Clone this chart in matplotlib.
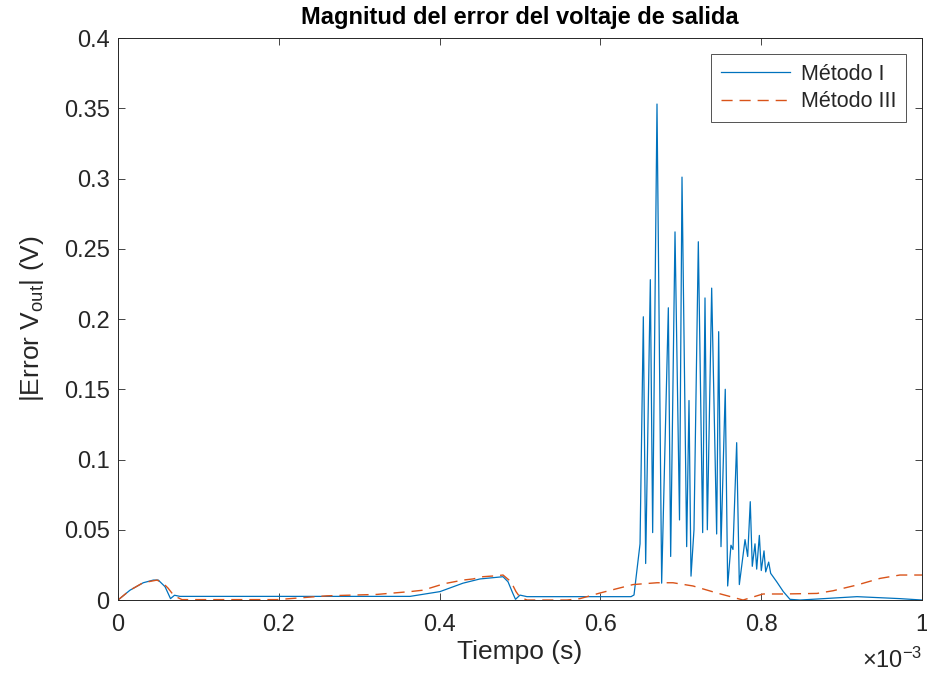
import matplotlib
matplotlib.use("Agg")
import matplotlib.pyplot as plt
from matplotlib.ticker import FuncFormatter

plt.rcParams["font.family"] = ["Liberation Sans", "DejaVu Sans"]
plt.rcParams["mathtext.fontset"] = "custom"
plt.rcParams["mathtext.rm"] = "Liberation Sans"
plt.rcParams["mathtext.it"] = "Liberation Sans:italic"
plt.rcParams["mathtext.bf"] = "Liberation Sans:bold"

# Time in milliseconds and error magnitude in volts
t_metodo1 = [0.000, 0.0149, 0.0314, 0.0439, 0.0501, 0.0585, 0.0653, 0.0703, 0.0771,
             0.3632, 0.4005, 0.4291, 0.4502, 0.4789, 0.4851, 0.4909, 0.4944, 0.5000,
             0.5087, 0.6381, 0.6418, 0.6493, 0.6534, 0.6563, 0.6621, 0.6650, 0.6704,
             0.6762, 0.6845, 0.6874, 0.6928, 0.6984, 0.7015, 0.7073, 0.7102, 0.7127,
             0.7164, 0.7218, 0.7272, 0.7301, 0.7330, 0.7384, 0.7446, 0.7471, 0.7500,
             0.7553, 0.7583, 0.7624, 0.7649, 0.7695, 0.7728, 0.7799, 0.7832, 0.7864,
             0.7889, 0.7923, 0.7944, 0.7977, 0.8001, 0.8035, 0.8056, 0.8093, 0.8118,
             0.8143, 0.8193, 0.8275, 0.8358, 0.8483, 0.9192, 0.9726, 1.0000]
e_metodo1 = [0.0, 0.007, 0.0123, 0.0142, 0.0142, 0.0095, 0.001, 0.0034, 0.0026,
             0.0026, 0.006, 0.012, 0.015, 0.0166, 0.013, 0.005, 0.0005, 0.0035,
             0.0024, 0.0024, 0.0036, 0.040, 0.2016, 0.026, 0.228, 0.048, 0.353,
             0.012, 0.208, 0.031, 0.262, 0.057, 0.301, 0.038, 0.142, 0.017,
             0.050, 0.255, 0.048, 0.215, 0.050, 0.222, 0.047, 0.191, 0.038,
             0.150, 0.010, 0.039, 0.036, 0.112, 0.011, 0.043, 0.031, 0.070,
             0.024, 0.040, 0.022, 0.046, 0.021, 0.035, 0.020, 0.027, 0.019,
             0.017, 0.013, 0.006, 0.0005, 0.0, 0.0024, 0.001, 0.0]

t_metodo3 = [0.000, 0.0149, 0.0311, 0.0485, 0.0560, 0.0622, 0.0697, 0.0796, 0.1978,
             0.2600, 0.3221, 0.3632, 0.3794, 0.4005, 0.4092, 0.4291, 0.4415, 0.4540,
             0.4714, 0.4789, 0.4888, 0.4950, 0.5000, 0.5087, 0.5585, 0.5746, 0.5995,
             0.6405, 0.6704, 0.6903, 0.7152, 0.7450, 0.7774, 0.8022, 0.8271, 0.8694,
             0.8893, 0.9192, 0.9478, 0.9726, 1.0000]
e_metodo3 = [0.0, 0.007, 0.0123, 0.0142, 0.012, 0.0085, 0.003, 0.0003, 0.0003,
             0.003, 0.004, 0.006, 0.007, 0.0107, 0.012, 0.0142, 0.015, 0.0166,
             0.0173, 0.0178, 0.013, 0.006, 0.002, 0.0, 0.0, 0.001, 0.005,
             0.011, 0.0123, 0.0123, 0.010, 0.005, 0.0, 0.0043, 0.0043, 0.0047,
             0.0066, 0.0107, 0.0154, 0.0178, 0.0178]

nombres = ["Método I", "Método III"]
y_ticks = [0, 0.05, 0.1, 0.15, 0.2, 0.25, 0.3, 0.35, 0.4]
x_ticks = [0, 0.2e-3, 0.4e-3, 0.6e-3, 0.8e-3, 1e-3]

azul = "#0072BD"
naranja = "#D95319"
gris = "#262626"

fig = plt.figure(figsize=(9.27, 6.8), dpi=100)
ax = fig.add_axes([0.1273, 0.1176, 0.8673, 0.8265])

ax.plot([t * 1e-3 for t in t_metodo1], e_metodo1, color=azul, lw=0.9, label=nombres[0])
ax.plot([t * 1e-3 for t in t_metodo3], e_metodo3, color=naranja, lw=1.0,
        linestyle=(0, (8, 5)), label=nombres[1])

ax.set_xlim(0, 1e-3)
ax.set_ylim(0, 0.4)
ax.set_xticks(x_ticks)
ax.set_yticks(y_ticks)
ax.xaxis.set_major_formatter(FuncFormatter(lambda v, p: "%g" % round(v * 1e3, 6)))
ax.yaxis.set_major_formatter(FuncFormatter(lambda v, p: "%g" % round(v, 6)))

ax.tick_params(direction="in", length=5, width=0.6, colors=gris, labelsize=17,
               top=True, right=True, pad=6)
ax.tick_params(axis="x", pad=10)
for s in ax.spines.values():
    s.set_color(gris)
    s.set_linewidth(0.7)

ax.set_title("Magnitud del error del voltaje de salida", fontsize=17,
             fontweight="bold", pad=10, color="black")
ax.set_xlabel("Tiempo (s)", fontsize=19, color=gris, labelpad=3)
ax.set_ylabel(r"|Error V$_{\mathrm{out}}$| (V)", fontsize=19, color=gris, labelpad=13)
ax.text(1.0, -0.107, r"$\times10^{-3}$", transform=ax.transAxes, ha="right",
        va="center", fontsize=17, color=gris)

leg = ax.legend(loc="upper right", fontsize=15.5, frameon=True, fancybox=False,
                edgecolor=gris, handlelength=3.2, borderaxespad=0.75,
                borderpad=0.45, labelspacing=0.3, handletextpad=0.5)
leg.get_frame().set_linewidth(0.7)
for txt in leg.get_texts():
    txt.set_color(gris)

fig.savefig("out.png", dpi=100)
